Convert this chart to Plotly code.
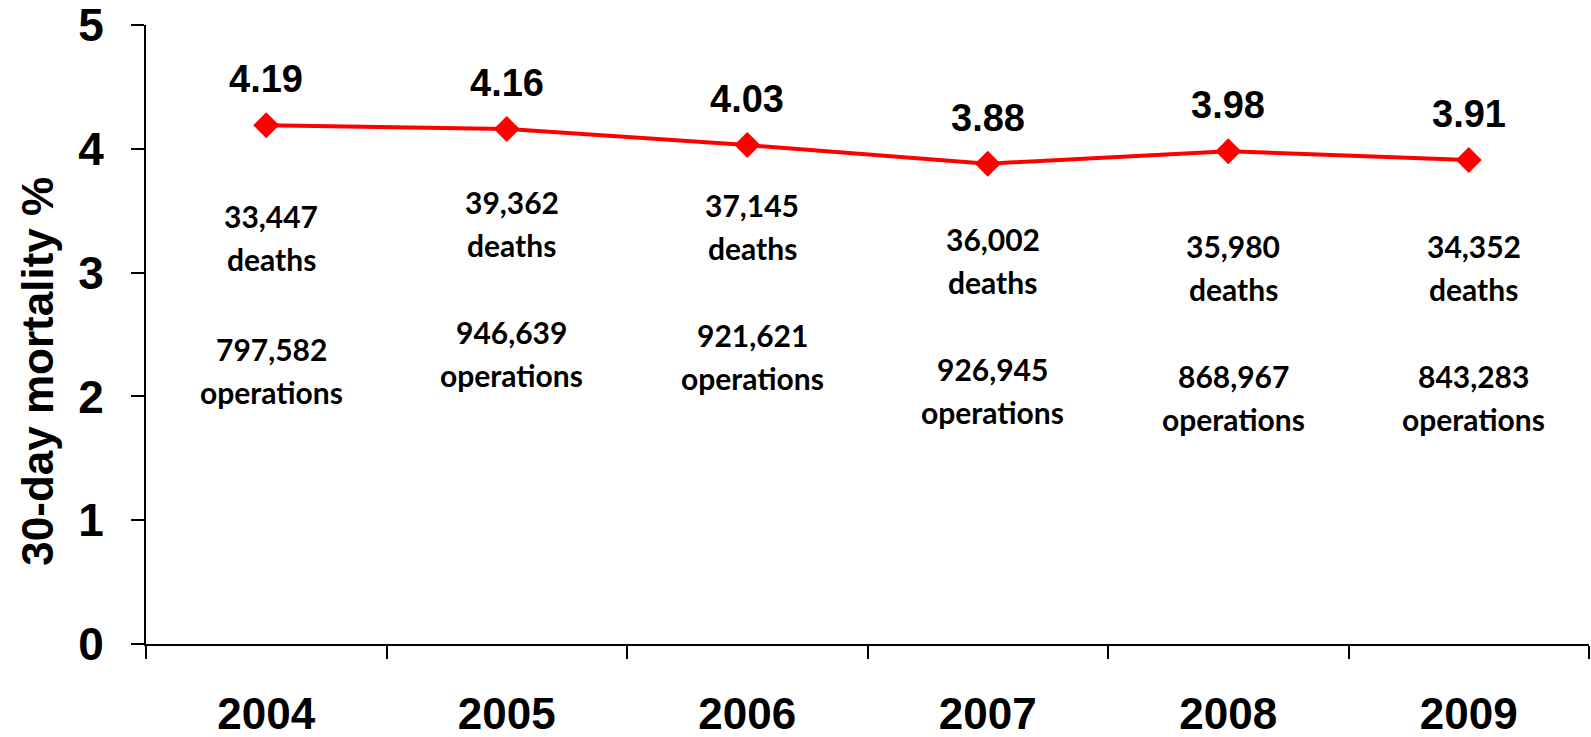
import plotly.graph_objects as go

years = ["2004", "2005", "2006", "2007", "2008", "2009"]
mortality = [4.19, 4.16, 4.03, 3.88, 3.98, 3.91]
deaths = ["33,447", "39,362", "37,145", "36,002", "35,980", "34,352"]
operations = ["797,582", "946,639", "921,621", "926,945", "868,967", "843,283"]

# layout helpers: vertical placement (axis units) of the text blocks
deaths_label_y = [3.28, 3.40, 3.37, 3.10, 3.04, 3.04]
ops_label_y = [2.21, 2.35, 2.32, 2.05, 1.99, 1.99]

fig = go.Figure()
fig.add_trace(go.Scatter(
    x=years, y=mortality, mode="lines+markers",
    line=dict(color="#FF0000", width=4),
    marker=dict(symbol="diamond", size=20, color="#FF0000"),
    showlegend=False, hoverinfo="skip",
))

annos = []
num_font = dict(family="Liberation Sans, Arial", size=38, color="black")
txt_font = dict(family="Lato", size=30, color="black")
for i, yr in enumerate(years):
    annos.append(dict(x=i, y=mortality[i], xref="x", yref="y", text=f"<b>{mortality[i]:.2f}</b>",
                      showarrow=False, yshift=46, font=num_font))
    for txt, yy, shift in [(deaths[i], deaths_label_y[i], 21.5), ("deaths", deaths_label_y[i], -21.5),
                           (operations[i], ops_label_y[i], 21.5), ("operations", ops_label_y[i], -21.5)]:
        annos.append(dict(x=i, y=yy, xref="x", yref="y", text=f"<b>{txt}</b>", showarrow=False,
                          yshift=shift, xshift=5, font=txt_font))

annos.append(dict(x=0, y=2.2, xref="paper", yref="y", xshift=-108, xanchor="center", yanchor="middle",
                  text="<b>30-day mortality %</b>", textangle=-90, showarrow=False,
                  font=dict(family="Liberation Sans, Arial", size=44, color="black")))

fig.update_layout(
    width=1591, height=737,
    margin=dict(l=146, r=2, t=25, b=93),
    paper_bgcolor="white", plot_bgcolor="white",
    annotations=annos,
    xaxis=dict(type="category", range=[-0.5, 5.5], tickson="boundaries", automargin=False,
               showline=True, linecolor="black", linewidth=2, ticklabeloverflow="allow",
               ticks="outside", ticklen=13, tickwidth=2, tickcolor="black",
               showgrid=False, zeroline=False, ticklabelstandoff=30,
               tickfont=dict(family="Liberation Sans, Arial", size=44, color="black"),
               tickprefix="<b>", ticksuffix="</b>"),
    yaxis=dict(range=[0, 5], dtick=1, showline=True, linecolor="black", linewidth=2, automargin=False,
               ticklabeloverflow="allow",
               ticks="outside", ticklen=13, tickwidth=2, tickcolor="black",
               showgrid=False, zeroline=False, ticklabelstandoff=18,
               tickfont=dict(family="Liberation Sans, Arial", size=46, color="black"),
               tickprefix="<b>", ticksuffix="</b>"),
)

fig.write_html("out.html")
